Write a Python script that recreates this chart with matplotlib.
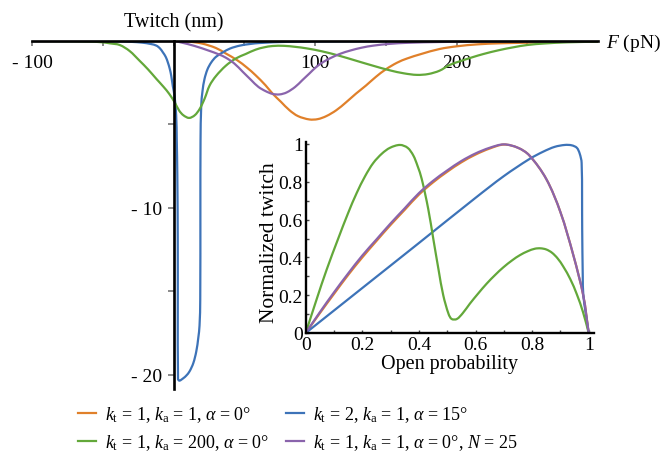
import matplotlib
matplotlib.use("Agg")
import matplotlib.pyplot as plt
from matplotlib.path import Path
from matplotlib.patches import PathPatch
from matplotlib.lines import Line2D
import numpy as np

plt.rcParams['font.family'] = ['Liberation Serif', 'DejaVu Serif']
plt.rcParams['mathtext.fontset'] = 'custom'
plt.rcParams['mathtext.rm'] = 'Liberation Serif'
plt.rcParams['mathtext.it'] = 'Liberation Serif:italic'
plt.rcParams['mathtext.bf'] = 'Liberation Serif:bold'

# ---------------- data ----------------
# Main panel: twitch (nm) vs force F (pN)
orange_F = [-100, 0, 10, 20, 30, 37, 45, 52, 58, 65, 70, 76, 82, 88, 96, 102, 108, 115, 122,
            129, 136, 143, 150, 158, 165, 175, 188, 200, 215, 230, 250, 270, 300]
orange_y = [0, 0, -0.03, -0.15, -0.42, -0.75, -1.15, -1.6, -2.05, -2.65, -3.15, -3.65, -4.15,
            -4.5, -4.7, -4.68, -4.5, -4.15, -3.67, -3.15, -2.67, -2.15, -1.7, -1.3, -1.05,
            -0.78, -0.48, -0.32, -0.2, -0.14, -0.1, -0.06, -0.02]

purple_F = [-100, 0, 5, 15, 25, 32, 37, 43, 49, 55, 60, 65, 70, 75, 80, 86, 91, 96, 101, 106,
            112, 118, 125, 133, 141, 153, 165, 188, 220, 300]
purple_y = [0, 0, -0.08, -0.3, -0.58, -0.8, -1.0, -1.35, -1.85, -2.35, -2.75, -3.0, -3.17,
            -3.2, -3.08, -2.75, -2.35, -1.95, -1.55, -1.25, -0.98, -0.76, -0.57, -0.4, -0.28,
            -0.17, -0.11, -0.06, -0.03, 0]

green_F = [-100, -80, -60, -50, -45, -38, -31, -24, -18, -12, -7, -3, 1, 4, 7, 11, 15, 18.5,
           22, 25.5, 30, 37, 44, 51, 58, 64, 70, 78, 86, 94, 105, 117, 129, 141, 153, 163, 172,
           180, 188, 195, 203, 211, 219, 230, 240, 250, 262, 278, 300]
green_y = [0, -0.01, -0.03, -0.08, -0.14, -0.24, -0.6, -1.18, -1.7, -2.28, -2.75, -3.17, -3.7,
           -4.17, -4.45, -4.61, -4.45, -4.07, -3.45, -2.67, -2.1, -1.48, -1.05, -0.78, -0.52,
           -0.38, -0.3, -0.29, -0.35, -0.44, -0.62, -0.88, -1.18, -1.48, -1.76, -1.94, -2.03,
           -1.98, -1.78, -1.44, -1.2, -0.98, -0.78, -0.55, -0.38, -0.24, -0.15, -0.08, -0.04]

blue_F = [-100, -40, -30, -22, -16, -12, -9.5, -7.5, -5.5, -4, -2.7, -1.6, -0.5, 0.7, 1.9, 2.3,
          2.7, 3.0, 3.2, 4.2, 7, 9, 11.3, 14, 16.1, 17.5, 18.4, 18.9, 19.0, 19.1, 19.6, 20.5,
          21.9, 24, 26.7, 30, 34.9, 40, 46.7, 54, 61, 80, 120, 300]
blue_y = [0, -0.02, -0.05, -0.1, -0.18, -0.28, -0.45, -0.68, -0.95, -1.28, -1.65, -2.08, -2.7,
          -3.27, -4.47, -5.9, -8, -12, -20.25, -20.35, -20.2, -20.05, -19.8, -19.3, -18.6,
          -17.8, -17.05, -15.5, -10, -6, -3.87, -3.0, -2.28, -1.7, -1.28, -0.95, -0.68, -0.45,
          -0.28, -0.18, -0.12, -0.05, -0.02, 0]

# Inset: normalized twitch vs open probability
orange_p = [0, 0.05, 0.1, 0.15, 0.2, 0.25, 0.3, 0.35, 0.4, 0.45, 0.5, 0.55, 0.6, 0.65, 0.7,
            0.75, 0.79, 0.85, 0.9, 0.946, 0.981, 1.0]
orange_v = [0, 0.105, 0.207, 0.307, 0.4, 0.487, 0.572, 0.652, 0.732, 0.797, 0.853, 0.903,
            0.944, 0.976, 0.997, 0.98, 0.94, 0.815, 0.64, 0.41, 0.197, 0]
purple_p = [0, 0.05, 0.1, 0.15, 0.2, 0.25, 0.3, 0.35, 0.4, 0.45, 0.5, 0.55, 0.6, 0.65, 0.7,
            0.75, 0.79, 0.85, 0.9, 0.946, 0.981, 1.0]
purple_v = [0, 0.11, 0.215, 0.315, 0.41, 0.495, 0.58, 0.66, 0.74, 0.805, 0.86, 0.91, 0.95,
            0.98, 0.998, 0.98, 0.94, 0.815, 0.64, 0.41, 0.197, 0]
green_p = [0, 0.039, 0.074, 0.115, 0.15, 0.18, 0.21, 0.239, 0.27, 0.298, 0.333, 0.36, 0.38,
           0.395, 0.41, 0.433, 0.451, 0.47, 0.486, 0.505, 0.516, 0.534, 0.555, 0.58, 0.61, 0.64,
           0.67, 0.698, 0.73, 0.757, 0.785, 0.81, 0.83, 0.85, 0.87, 0.89, 0.91, 0.935, 0.958,
           0.98, 1.0]
green_v = [0, 0.18, 0.335, 0.5, 0.635, 0.74, 0.83, 0.9, 0.95, 0.98, 0.995, 0.98, 0.94, 0.885,
           0.815, 0.656, 0.497, 0.33, 0.2, 0.1, 0.074, 0.074, 0.105, 0.155, 0.21, 0.262, 0.308,
           0.347, 0.385, 0.412, 0.433, 0.446, 0.448, 0.442, 0.425, 0.395, 0.352, 0.285, 0.205,
           0.11, 0]
blue_p = [0, 0.2, 0.4, 0.6, 0.7, 0.79, 0.84, 0.88, 0.916, 0.94, 0.958, 0.968, 0.975, 0.977,
          0.979, 0.981, 0.99, 1.0]
blue_v = [0, 0.238, 0.476, 0.715, 0.83, 0.92, 0.96, 0.985, 0.995, 0.993, 0.98, 0.95, 0.9,
          0.55, 0.3, 0.2, 0.1, 0]

labels = [r"$k_{\mathrm{t}}$ = 1, $k_{\mathrm{a}}$ = 1, $\alpha$ = 0°",
          r"$k_{\mathrm{t}}$ = 1, $k_{\mathrm{a}}$ = 200, $\alpha$ = 0°",
          r"$k_{\mathrm{t}}$ = 2, $k_{\mathrm{a}}$ = 1, $\alpha$ = 15°",
          r"$k_{\mathrm{t}}$ = 1, $k_{\mathrm{a}}$ = 1, $\alpha$ = 0°, $N$ = 25"]

x_ticks = [-100, -50, 0, 50, 100, 150, 200, 250]
x_ticklabels = ['- 100', '', '', '', '100', '', '200', '']
y_ticks = [-20, -15, -10, -5]
y_ticklabels = ['- 20', '', '- 10', '']
in_ticks = [0, 0.2, 0.4, 0.6, 0.8, 1.0]
in_ticklabels = ['0', '0.2', '0.4', '0.6', '0.8', '1']

c_orange = '#E0802A'
c_green = '#63A83A'
c_blue = '#3D73B8'
c_purple = '#8A64AC'


def smooth_curve(ax, xs, ys, color, lw):
    """Draw a smooth curve through the read points (Bezier through every point)."""
    bb = ax.get_position()
    fw, fh = ax.figure.get_size_inches() * ax.figure.dpi
    x0, x1 = ax.get_xlim()
    y0, y1 = ax.get_ylim()
    kx = bb.width * fw / (x1 - x0)
    ky = bb.height * fh / (y1 - y0)
    P = np.column_stack([np.asarray(xs, float) * kx, np.asarray(ys, float) * ky])
    n = len(P)
    d = np.linalg.norm(np.diff(P, axis=0), axis=1)
    T = np.zeros_like(P)
    T[0] = (P[1] - P[0]) / d[0]
    T[-1] = (P[-1] - P[-2]) / d[-1]
    for i in range(1, n - 1):
        T[i] = (P[i + 1] - P[i - 1]) / (d[i - 1] + d[i])
    verts = [P[0]]
    codes = [Path.MOVETO]
    for i in range(n - 1):
        verts += [P[i] + T[i] * d[i] / 3, P[i + 1] - T[i + 1] * d[i] / 3, P[i + 1]]
        codes += [Path.CURVE4] * 3
    verts = np.array(verts) / np.array([kx, ky])
    patch = PathPatch(Path(verts, codes), fill=False, edgecolor=color, lw=lw,
                      joinstyle='round', capstyle='butt', zorder=2)
    ax.add_patch(patch)


W, H = 664, 452
fig = plt.figure(figsize=(W / 100, H / 100), dpi=100)
lw = 1.6

# ---------------- main axes ----------------
ax = fig.add_axes([32 / W, 1 - 390 / H, 566 / W, 348 / H])
ax.set_xlim(-100, 300)
ax.set_ylim(-20.85, 0)
smooth_curve(ax, orange_F, orange_y, c_orange, lw)
smooth_curve(ax, blue_F, blue_y, c_blue, lw)
smooth_curve(ax, green_F, green_y, c_green, lw)
smooth_curve(ax, purple_F, purple_y, c_purple, lw)

ax.spines['top'].set_visible(False)
ax.spines['right'].set_visible(False)
ax.spines['bottom'].set_position(('data', 0))
ax.spines['left'].set_position(('data', 0))
for s in ('bottom', 'left'):
    ax.spines[s].set_linewidth(1.9)
    ax.spines[s].set_zorder(5)
ax.set_xticks(x_ticks)
ax.set_xticklabels(x_ticklabels)
ax.set_yticks(y_ticks)
ax.set_yticklabels(y_ticklabels)
ax.tick_params(axis='x', direction='out', length=3.5, width=1.2, color='#777777',
               labelsize=14, pad=6)
ax.tick_params(axis='y', direction='out', length=4, width=1.2, color='#777777',
               labelsize=14, pad=4)
ax.patch.set_alpha(0)

fig.text(174 / W, 1 - 23 / H, 'Twitch (nm)', ha='center', va='center', fontsize=14.5)
fig.text(606 / W, 1 - 43 / H, r'$F$ (pN)', ha='left', va='center', fontsize=14)

# ---------------- inset ----------------
ix0, iy0 = 305.7, 334
sx, sy = 283, 189
ax2 = fig.add_axes([ix0 / W, 1 - iy0 / H, sx * 1.017 / W, sy * 1.012 / H])
ax2.set_xlim(0, 1.017)
ax2.set_ylim(0, 1.012)
smooth_curve(ax2, orange_p, orange_v, c_orange, lw)
smooth_curve(ax2, blue_p, blue_v, c_blue, lw)
smooth_curve(ax2, green_p, green_v, c_green, lw)
smooth_curve(ax2, purple_p, purple_v, c_purple, lw)
ax2.spines['top'].set_visible(False)
ax2.spines['right'].set_visible(False)
for s in ('bottom', 'left'):
    ax2.spines[s].set_linewidth(1.7)
    ax2.spines[s].set_zorder(5)
ax2.set_xticks(in_ticks)
ax2.set_xticklabels(in_ticklabels)
ax2.set_yticks(in_ticks)
ax2.set_yticklabels(in_ticklabels)
ax2.set_xticks([0.1, 0.3, 0.5, 0.7, 0.9], minor=True)
ax2.set_yticks([0.1, 0.3, 0.5, 0.7, 0.9], minor=True)
ax2.tick_params(which='both', direction='in', length=2.5, width=1.0, color='#444444',
                labelsize=14, pad=2)
ax2.set_xlabel('Open probability', fontsize=14.5, labelpad=1)
ax2.set_ylabel('Normalized twitch', fontsize=15.5, labelpad=0)
ax2.yaxis.set_label_coords(-0.092, 0.48)
ax2.patch.set_alpha(0)

# ---------------- legend ----------------
handles = [Line2D([], [], color=c, lw=lw) for c in (c_orange, c_green, c_blue, c_purple)]
fig.legend(handles, labels, ncol=2, loc='upper left',
           bbox_to_anchor=(78 / W, 1 - 405 / H), frameon=False, fontsize=13,
           handlelength=1.0, handletextpad=0.5, columnspacing=0.9,
           labelspacing=0.45, borderpad=0, borderaxespad=0)

fig.savefig('out.png', dpi=100)
